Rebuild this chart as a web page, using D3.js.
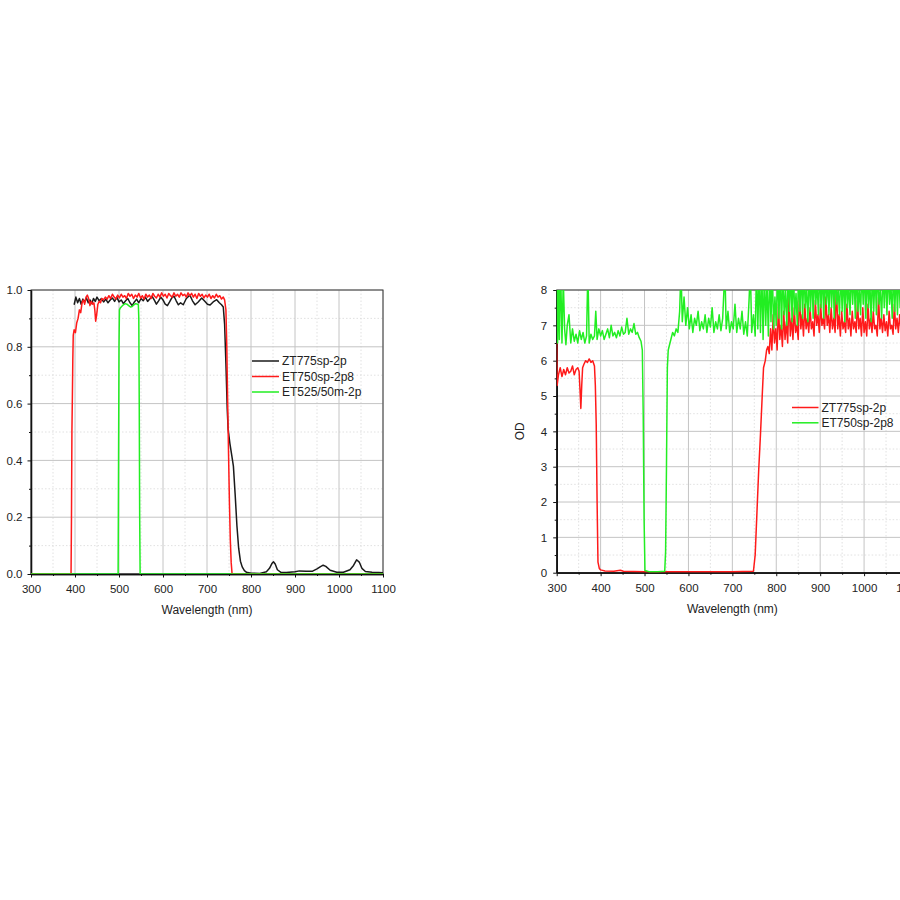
<!DOCTYPE html>
<html><head><meta charset="utf-8">
<script src="https://cdn.jsdelivr.net/npm/d3@7/dist/d3.min.js"></script>
<style>
body{margin:0;background:#fff}
svg{display:block}
text{font-family:"Liberation Sans",Arial,sans-serif;fill:#222}
</style>
</head><body>
<svg id="c" width="900" height="900"></svg>
<script>
// ---------- DATA ----------
const xTicks = [300,400,500,600,700,800,900,1000,1100];
const xMinorTicks = [350,450,550,650,750,850,950,1050];
const transTicks = [0,0.2,0.4,0.6,0.8,1.0];
const transMinorTicks = [0.1,0.3,0.5,0.7,0.9];
const odTicks = [0,1,2,3,4,5,6,7,8];
const odMinorTicks = [0.5,1.5,2.5,3.5,4.5,5.5,6.5,7.5];

const transNames = ["ZT775sp-2p","ET750sp-2p8","ET525/50m-2p"];
const odNames = ["ZT775sp-2p","ET750sp-2p8"];

// Transmission, ZT775sp-2p (black)
const transZT775 = [[398,0.948],[402,0.975],[406,0.955],[410,0.97],[414,0.95],[418,0.968],[422,0.958],[426,0.972],[430,0.955],[434,0.965],[438,0.952],[442,0.97],[446,0.96],[450,0.975],[455,0.962],[460,0.97],[465,0.958],[470,0.968],[475,0.955],[480,0.965],[485,0.972],[490,0.96],[495,0.975],[500,0.958],[505,0.965],[510,0.952],[515,0.962],[520,0.97],[525,0.955],[530,0.945],[535,0.958],[540,0.968],[545,0.955],[550,0.97],[555,0.962],[560,0.975],[565,0.96],[570,0.968],[575,0.978],[580,0.965],[585,0.95],[590,0.962],[595,0.975],[600,0.965],[605,0.95],[610,0.945],[615,0.958],[620,0.972],[625,0.978],[630,0.962],[635,0.948],[640,0.955],[646,0.948],[653,0.97],[661,0.982],[667,0.962],[673,0.948],[680,0.958],[688,0.972],[695,0.96],[701,0.95],[707,0.947],[714,0.958],[722,0.966],[728,0.955],[733,0.948],[737,0.94],[740,0.88],[743,0.74],[746,0.58],[748,0.51],[752,0.46],[756,0.42],[760,0.38],[764,0.28],[768,0.17],[772,0.09],[776,0.045],[780,0.025],[785,0.012],[790,0.006],[800,0.003],[820,0.002],[835,0.008],[842,0.02],[848,0.038],[851,0.043],[855,0.035],[860,0.015],[868,0.006],[880,0.005],[900,0.008],[910,0.011],[925,0.01],[940,0.01],[950,0.018],[958,0.026],[964,0.031],[970,0.027],[980,0.013],[995,0.006],[1010,0.006],[1025,0.015],[1033,0.03],[1040,0.05],[1046,0.042],[1052,0.02],[1060,0.009],[1075,0.006],[1090,0.005],[1100,0.004]];

// Transmission, ET750sp-2p8 (red)
const transET750 = [[300,0],[391,0],[392,0.2],[393,0.5],[394,0.62],[395,0.75],[396,0.84],[398,0.86],[401,0.85],[404,0.885],[407,0.9],[410,0.93],[413,0.92],[416,0.955],[419,0.965],[422,0.95],[425,0.975],[428,0.982],[431,0.97],[434,0.945],[437,0.96],[440,0.95],[443,0.955],[445,0.93],[447,0.89],[449,0.91],[452,0.95],[455,0.96],[458,0.955],[461,0.97],[465,0.965],[469,0.975],[473,0.968],[477,0.98],[481,0.97],[485,0.985],[489,0.975],[493,0.968],[497,0.982],[501,0.972],[505,0.985],[509,0.975],[513,0.98],[517,0.97],[521,0.988],[525,0.978],[529,0.985],[533,0.97],[537,0.982],[541,0.975],[545,0.988],[549,0.972],[553,0.98],[557,0.968],[561,0.985],[565,0.975],[569,0.982],[573,0.97],[577,0.988],[581,0.978],[585,0.972],[589,0.985],[593,0.975],[597,0.99],[601,0.978],[605,0.985],[609,0.972],[613,0.988],[617,0.98],[621,0.975],[625,0.99],[629,0.978],[633,0.985],[637,0.975],[641,0.99],[645,0.98],[649,0.985],[653,0.975],[657,0.99],[661,0.98],[665,0.988],[669,0.975],[673,0.985],[677,0.97],[681,0.988],[685,0.978],[689,0.985],[693,0.972],[697,0.982],[701,0.975],[705,0.985],[709,0.97],[713,0.98],[717,0.972],[721,0.985],[725,0.975],[729,0.98],[733,0.968],[737,0.975],[740,0.965],[743,0.93],[745,0.8],[747,0.6],[749,0.42],[751,0.25],[753,0.12],[755,0.04],[757,0.0],[1100,0]];

// Transmission, ET525/50m-2p (green)
const transET525 = [[300,0],[498,0],[499,0.4],[500,0.8],[501,0.93],[503,0.937],[506,0.942],[510,0.948],[514,0.952],[518,0.95],[522,0.945],[526,0.94],[530,0.942],[534,0.948],[538,0.952],[542,0.95],[544,0.948],[545,0.9],[546,0.6],[547,0.2],[548,0.0],[1100,0]];

// Optical density, ZT775sp-2p (red)
const odZT775 = [[300,6.5],[301,5.3],[304,5.6],[308,5.8],[312,5.55],[316,5.75],[320,5.6],[324,5.8],[328,5.65],[332,5.7],[336,5.85],[340,5.6],[344,5.75],[348,5.8],[351,5.7],[353,5.2],[355,4.65],[357,5.3],[359,5.8],[362,5.9],[366,6.0],[370,5.95],[374,6.05],[378,5.95],[382,6.0],[386,5.85],[388,5.3],[390,4.2],[392,2.0],[394,0.3],[397,0.12],[400,0.08],[410,0.05],[430,0.04],[445,0.07],[452,0.04],[500,0.03],[600,0.03],[700,0.03],[748,0.04],[752,0.5],[756,1.7],[760,2.9],[764,3.9],[768,5.0],[771,5.8],[775,6.0],[778,6.3],[781,6.4],[784,6.2],[787,6.9],[790,6.3],[793,7.3],[796,6.5],[799,6.9],[802,6.3],[805,7.6],[808,6.6],[811,7.0],[814,6.4],[817,7.4],[820,6.6],[823,7.1],[826,6.5],[829,7.8],[832,6.7],[835,7.2],[838,6.6],[841,7.5],[844,6.8],[847,7.0],[850,6.6],[853,8.0],[856,6.9],[859,7.3],[862,6.7],[865,7.6],[868,6.9],[871,7.2],[874,6.8],[877,7.5],[880,6.9],[883,7.1],[886,6.7],[889,7.7],[892,7.0],[895,7.3],[898,6.8],[901,7.6],[904,7.0],[907,7.2],[910,6.9],[913,7.8],[916,7.0],[919,7.3],[922,6.8],[925,7.5],[928,6.9],[931,7.2],[934,6.8],[937,8.2],[940,6.9],[943,7.3],[946,6.7],[949,7.4],[952,6.9],[955,7.1],[958,6.8],[961,7.6],[964,6.9],[967,7.2],[970,6.7],[973,7.4],[976,6.9],[979,7.1],[982,6.8],[985,7.7],[988,6.9],[991,7.2],[994,6.7],[997,7.5],[1000,6.8],[1003,7.1],[1006,6.7],[1009,7.6],[1012,6.9],[1015,7.2],[1018,6.8],[1021,7.4],[1024,6.9],[1027,7.0],[1030,6.7],[1033,7.8],[1036,6.9],[1039,7.2],[1042,6.8],[1045,7.3],[1048,6.85],[1051,7.1],[1054,6.7],[1057,7.4],[1060,6.9],[1063,7.0],[1066,6.75],[1069,7.6],[1072,6.9],[1075,7.2],[1078,6.8],[1081,7.3],[1084,6.9],[1087,7.1],[1090,6.8],[1093,7.4],[1096,6.9],[1099,7.2]];

// Optical density, ET750sp-2p8 (green)
const odET750 = [[300,8.6],[302,6.5],[304,8.6],[306,6.6],[309,8.6],[312,6.5],[315,8.3],[318,6.9],[321,6.45],[324,7.0],[328,7.3],[332,6.5],[336,6.9],[340,6.55],[344,6.75],[348,6.5],[352,6.85],[356,6.6],[360,6.8],[364,6.5],[368,6.7],[371,8.6],[374,6.5],[378,6.75],[382,6.6],[386,6.7],[389,7.4],[392,6.6],[396,6.9],[400,6.7],[404,6.85],[408,6.6],[412,6.75],[416,6.9],[420,6.65],[424,7.0],[428,6.7],[432,6.8],[436,6.65],[440,6.85],[444,6.7],[448,6.95],[452,6.75],[456,6.8],[460,7.2],[464,6.75],[468,6.9],[472,6.8],[476,7.05],[480,6.75],[484,6.8],[488,6.65],[492,6.55],[495,6.3],[497,4.5],[499,1.5],[501,0.06],[510,0.03],[530,0.03],[546,0.04],[548,0.6],[550,3.0],[552,5.8],[554,6.3],[556,6.4],[560,6.6],[564,6.8],[568,6.7],[572,6.9],[576,6.8],[580,7.4],[583,8.6],[586,7.1],[590,7.8],[594,7.0],[598,7.5],[602,6.9],[606,7.3],[610,6.8],[614,7.2],[618,7.0],[622,7.4],[626,6.85],[630,7.1],[634,6.9],[638,7.3],[642,6.8],[646,7.2],[650,6.95],[654,7.5],[658,6.8],[662,7.1],[666,6.9],[670,7.3],[674,6.85],[678,7.2],[683,8.6],[686,6.9],[690,7.4],[694,6.8],[698,7.1],[702,6.9],[706,7.6],[710,6.8],[714,7.2],[718,6.9],[722,7.4],[726,6.75],[730,7.1],[734,6.7],[738,7.7],[741,8.6],[744,6.8],[748,7.3],[752,6.7],[755,8.6],[758,6.9],[761,8.6],[764,6.8],[767,8.6],[770,6.6],[773,8.6],[776,7.0],[779,8.2],[782,6.7],[785,8.6],[788,7.1],[791,8.6],[794,6.9],[797,7.8],[800,7.0],[803,8.6],[806,7.2],[809,8.6],[812,6.9],[815,8.6],[818,7.3],[821,8.0],[824,7.0],[827,8.6],[830,7.4],[833,8.6],[836,7.1],[839,8.6],[842,7.3],[845,7.9],[848,7.0],[851,8.6],[854,7.4],[857,8.6],[860,7.2],[863,8.6],[866,7.5],[869,8.1],[872,7.1],[875,8.6],[878,7.4],[881,8.6],[884,7.2],[887,8.6],[890,7.6],[893,8.2],[896,7.3],[899,8.6],[902,7.5],[905,8.6],[908,7.2],[911,8.6],[914,7.6],[917,8.3],[920,7.3],[923,8.6],[926,7.5],[929,8.6],[932,7.2],[935,8.6],[938,7.6],[941,8.0],[944,7.3],[947,8.6],[950,7.4],[953,8.6],[956,7.1],[959,8.6],[962,7.5],[965,8.2],[968,7.3],[971,8.6],[974,7.6],[977,8.6],[980,7.2],[983,8.6],[986,7.4],[989,8.1],[992,7.3],[995,8.6],[998,7.6],[1001,8.6],[1004,7.2],[1007,8.6],[1010,7.5],[1013,8.3],[1016,7.1],[1019,8.6],[1022,7.4],[1025,8.6],[1028,7.3],[1031,8.6],[1034,7.6],[1037,8.0],[1040,7.2],[1043,8.6],[1046,7.5],[1049,8.6],[1052,7.3],[1055,8.6],[1058,7.6],[1061,8.2],[1064,7.2],[1067,8.6],[1070,7.4],[1073,8.6],[1076,7.3],[1079,8.6],[1082,7.5],[1085,8.1],[1088,7.2],[1091,8.6],[1094,7.4],[1097,8.6],[1100,7.3]];

// ---------- DRAW ----------
const svg = d3.select("#c");

function panel(cfg){
  const g = svg.append("g");
  const x = d3.scaleLinear().domain([300,1100]).range([cfg.l, cfg.r]);
  const y = d3.scaleLinear().domain(cfg.yDomain).range([cfg.b, cfg.t]);
  const clipId = "clip" + cfg.id;
  svg.append("clipPath").attr("id", clipId).append("rect")
    .attr("x", cfg.l).attr("y", cfg.t).attr("width", cfg.r - cfg.l).attr("height", cfg.b - cfg.t);

  // grid
  const grid = g.append("g");
  grid.selectAll(".vmin").data(xMinorTicks).join("line")
    .attr("x1", d=>x(d)).attr("x2", d=>x(d)).attr("y1", cfg.t).attr("y2", cfg.b)
    .attr("stroke", "#d9d9d9").attr("stroke-width", 0.8).attr("stroke-dasharray", "1.5,2");
  grid.selectAll(".hmin").data(cfg.yMinor).join("line")
    .attr("x1", cfg.l).attr("x2", cfg.r).attr("y1", d=>y(d)).attr("y2", d=>y(d))
    .attr("stroke", "#d9d9d9").attr("stroke-width", 0.8).attr("stroke-dasharray", "1.5,2");
  grid.selectAll(".vmaj").data(xTicks).join("line")
    .attr("x1", d=>x(d)).attr("x2", d=>x(d)).attr("y1", cfg.t).attr("y2", cfg.b)
    .attr("stroke", "#c4c4c4").attr("stroke-width", 1);
  grid.selectAll(".hmaj").data(cfg.yTicks).join("line")
    .attr("x1", cfg.l).attr("x2", cfg.r).attr("y1", d=>y(d)).attr("y2", d=>y(d))
    .attr("stroke", "#c4c4c4").attr("stroke-width", 1);

  // frame
  g.append("rect").attr("x", cfg.l).attr("y", cfg.t).attr("width", cfg.r-cfg.l).attr("height", cfg.b-cfg.t)
    .attr("fill","none").attr("stroke","#3a3a3a").attr("stroke-width",1);

  // axes
  const ax = g.append("g").attr("transform", `translate(0,${cfg.b})`)
    .call(d3.axisBottom(x).tickValues(xTicks).tickSize(3.5).tickSizeOuter(0).tickPadding(7.5).tickFormat(d3.format("d")));
  const axm = g.append("g").attr("transform", `translate(0,${cfg.b})`)
    .call(d3.axisBottom(x).tickValues(xMinorTicks).tickSize(2).tickSizeOuter(0).tickFormat(""));
  const ay = g.append("g").attr("transform", `translate(${cfg.l},0)`)
    .call(d3.axisLeft(y).tickValues(cfg.yTicks).tickSize(3.5).tickSizeOuter(0).tickPadding(cfg.yPad).tickFormat(cfg.yFmt));
  const aym = g.append("g").attr("transform", `translate(${cfg.l},0)`)
    .call(d3.axisLeft(y).tickValues(cfg.yMinor).tickSize(2).tickSizeOuter(0).tickFormat(""));
  [ax,axm,ay,aym].forEach(a=>{
    a.select(".domain").attr("stroke","#111").attr("stroke-width",1.3);
    a.selectAll(".tick line").attr("stroke","#111").attr("stroke-width",1);
    a.selectAll("text").attr("font-size", 11.5).attr("fill","#222")
      .attr("font-family",'"Liberation Sans",Arial,sans-serif');
  });

  // axis titles
  g.append("text").attr("x", (cfg.l+cfg.r)/2).attr("y", cfg.b + 40)
    .attr("text-anchor","middle").attr("font-size",12).text("Wavelength (nm)");
  if (cfg.yLabel) {
    g.append("text").attr("transform", `translate(${cfg.l - 33},${(cfg.t+cfg.b)/2}) rotate(-90)`)
      .attr("text-anchor","middle").attr("font-size",12).text(cfg.yLabel);
  }

  // data
  const line = d3.line().x(d=>x(d[0])).y(d=>y(d[1]));
  const dg = g.append("g").attr("clip-path", `url(#${clipId})`);
  cfg.series.forEach(s=>{
    dg.append("path").datum(s.data).attr("d", line).attr("fill","none")
      .attr("stroke", s.color).attr("stroke-width", 1.5).attr("stroke-linejoin","round");
  });

  // legend
  const lg = g.append("g");
  cfg.series.forEach((s,i)=>{
    const yy = cfg.legY + i*cfg.legDy;
    lg.append("line").attr("x1", cfg.legX).attr("x2", cfg.legX + cfg.legW).attr("y1", yy).attr("y2", yy)
      .attr("stroke", s.color).attr("stroke-width", 1.5);
    lg.append("text").attr("x", cfg.legX + cfg.legW + 3).attr("y", yy).attr("dy","0.35em")
      .attr("font-size", 12).text(s.name);
  });
}

panel({
  id: "T", l: 31, r: 383, t: 290, b: 574,
  yDomain: [0,1], yTicks: transTicks, yMinor: transMinorTicks, yFmt: d3.format(".1f"), yPad: 5,
  series: [
    {name: transNames[0], color: "#1a1a1a", data: transZT775},
    {name: transNames[1], color: "#ff1a1a", data: transET750},
    {name: transNames[2], color: "#22ee22", data: transET525}
  ],
  legX: 252, legW: 27, legY: 361, legDy: 15.5
});

panel({
  id: "OD", l: 556.7, r: 908, t: 290, b: 572.7,
  yDomain: [0,8], yTicks: odTicks, yMinor: odMinorTicks, yFmt: d3.format("d"), yPad: 6, yLabel: "OD",
  series: [
    {name: odNames[0], color: "#ff1a1a", data: odZT775},
    {name: odNames[1], color: "#22ee22", data: odET750}
  ],
  legX: 792, legW: 26.5, legY: 407.5, legDy: 15.3
});
</script>
</body></html>
